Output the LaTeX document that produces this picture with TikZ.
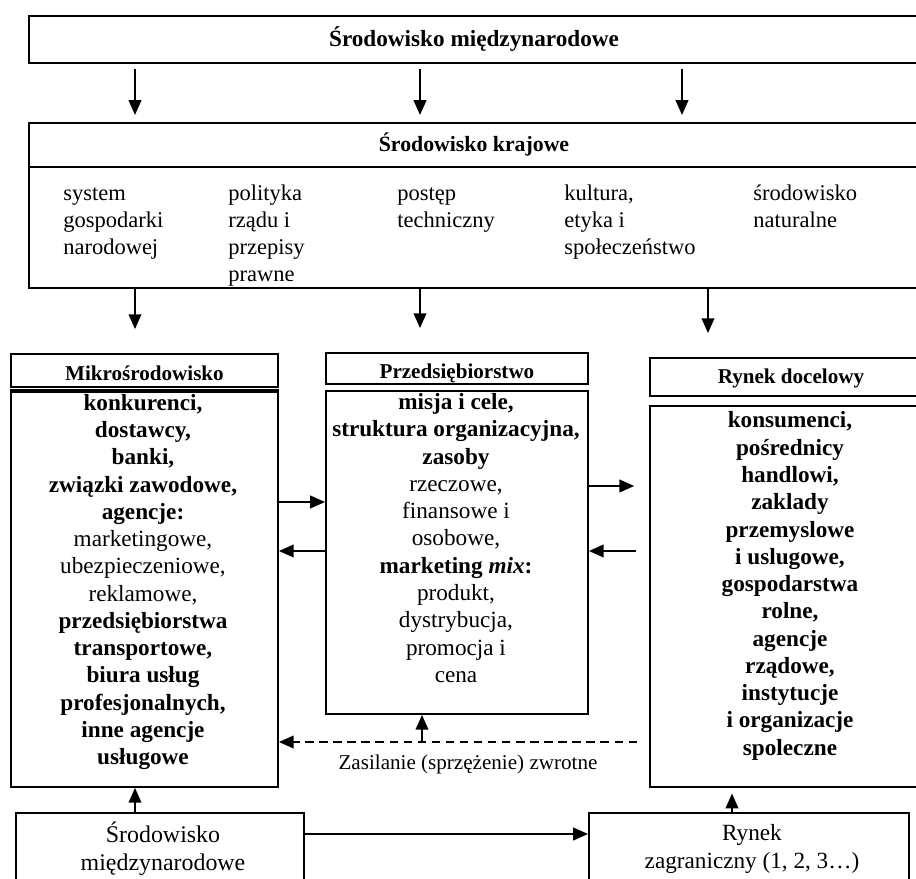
\documentclass[tikz,border=0pt]{standalone}
\usepackage{fontspec}
\setmainfont{Liberation Serif}
\usetikzlibrary{arrows.meta}

\tikzset{
	box/.style={draw, line width=1.3pt, inner sep=0pt, anchor=north west},
	arr/.style={line width=1.2pt, -{Triangle[length=10.5pt,width=9pt]}},
	headtxt/.style={font=\fontsize{15}{17}\selectfont\bfseries, text height=14.5pt, text depth=0pt},
	bodytxt/.style={align=center, inner sep=0pt, font=\fontsize{16.5}{19.4}\selectfont},
	itemtxt/.style={align=left, anchor=north west, inner sep=0pt, font=\fontsize{16}{19}\selectfont},
}

\begin{document}
\begin{tikzpicture}[x=0.025cm, y=-0.025cm]
			%%%%% START %%%%%
			\clip (0,0) rectangle (916,879);
			
			% international and domestic environment
			\node[box, minimum width=22.25cm, minimum height=1.175cm, font=\fontsize{16.5}{18}\selectfont\bfseries] (intl) at (28,15) {Środowisko międzynarodowe};
			\node[box, minimum width=22.25cm, minimum height=1.1cm, font=\fontsize{15.5}{17}\selectfont\bfseries] (krajh) at (28,122) {Środowisko krajowe};
			\node[box, minimum width=22.25cm, minimum height=3.025cm] (krajb) at (28,166) {};
			
			\node[itemtxt] (sys) at (63,182) {\strut system\\gospodarki\\narodowej};
			\node[itemtxt] (pol) at (228,182) {\strut polityka\\rządu i\\przepisy\\prawne};
			\node[itemtxt] (tech) at (397,182) {\strut postęp\\techniczny};
			\node[itemtxt] (kult) at (564,182) {\strut kultura,\\etyka i\\społeczeństwo};
			\node[itemtxt] (nat) at (753,182) {\strut środowisko\\naturalne};
			
			% three columns
			\node[box, minimum width=6.675cm, minimum height=0.825cm, headtxt] (mikroh) at (10,353) {Mikrośrodowisko};
			\node[box, minimum width=6.675cm, minimum height=9.875cm] (mikrob) at (10,391) {};
			\draw[line width=2.2pt] (mikrob.north west) -- (mikrob.north east);
			\node[bodytxt] (mikrotxt) at (143,582) {\textbf{konkurenci,}\\\textbf{dostawcy,}\\\textbf{banki,}\\\textbf{związki zawodowe,}\\\textbf{agencje:}\\marketingowe,\\ubezpieczeniowe,\\reklamowe,\\\textbf{przedsiębiorstwa}\\\textbf{transportowe,}\\\textbf{biura usług}\\\textbf{profesjonalnych,}\\\textbf{inne agencje}\\\textbf{usługowe}};
			
			\node[box, minimum width=6.55cm, minimum height=0.775cm, headtxt] (przh) at (325,352) {Przedsiębiorstwo};
			\node[box, minimum width=6.55cm, minimum height=8.075cm] (przb) at (325,390) {};
			\node[bodytxt] (przbtxt) at (456,538) {\textbf{misja i cele,}\\\textbf{struktura organizacyjna,}\\\textbf{zasoby}\\rzeczowe,\\finansowe i\\osobowe,\\\textbf{marketing \textit{mix}:}\\produkt,\\dystrybucja,\\promocja i\\cena};
			
			\node[box, minimum width=7.05cm, minimum height=0.95cm, headtxt, text height=9pt] (rynh) at (649,357) {Rynek docelowy};
			\node[box, minimum width=7.05cm, minimum height=9.525cm] (rynb) at (649,405) {};
			\node[bodytxt, font=\fontsize{16.5}{19.4}\selectfont\bfseries] (rynbtxt) at (790,586) {konsumenci,\\pośrednicy\\handlowi,\\zaklady\\przemyslowe\\i uslugowe,\\gospodarstwa\\rolne,\\agencje\\rządowe,\\instytucje\\i organizacje\\spoleczne};
			
			% foreign boxes
			\node[box, minimum width=7.2cm, minimum height=2.2cm] (bl) at (15,812) {};
			\node[align=center, font=\fontsize{17}{20}\selectfont] (bltxt) at (163,849) {Środowisko\\międzynarodowe};
			\node[box, minimum width=8cm, minimum height=2.2cm] (br) at (588,812) {};
			\node[align=center, font=\fontsize{16.5}{20}\selectfont] (brtxt) at (752,849) {Rynek\\zagraniczny (1, 2, 3…)};
			
			% arrows
			\foreach \x in {135,420,682}
				\draw[arr, shorten <=3.5pt, shorten >=5pt] (intl.south -| \x,0) -- (krajh.north -| \x,0);
			\foreach \x/\b in {135/mikroh,420/przh,708/rynh}
				\draw[arr, shorten >=17pt] (krajb.south -| \x,0) -- (\b.north -| \x,0);
			
			\draw[arr] (mikrob.east |- 0,502) -- (przb.west |- 0,502);
			\draw[arr] (przb.west |- 0,551) -- (mikrob.east |- 0,551);
			\draw[arr, shorten >=10.5pt] (przb.east |- 0,486) -- (rynb.west |- 0,486);
			\draw[arr, shorten <=9pt] (rynb.west |- 0,551) -- (przb.east |- 0,551);
			
			\coordinate (fb) at (422,742);
			\draw[arr, dash pattern=on 6pt off 4pt, shorten <=8.5pt] (rynb.west |- fb) -- (mikrob.east |- fb);
			\draw[arr] (fb) -- (przb.south -| fb);
			\node[font=\fontsize{15}{17}\selectfont] (fbtxt) at (468,764) {Zasilanie (sprzężenie) zwrotne};
			
			\draw[arr] (bl.north -| 135,0) -- (mikrob.south -| 135,0);
			\draw[arr, shorten >=4pt] (br.north -| 732,0) -- (rynb.south -| 732,0);
			\draw[arr] (bl.east |- 0,834) -- (br.west |- 0,834);
			%%%%% END %%%%%
\end{tikzpicture}
\end{document}
